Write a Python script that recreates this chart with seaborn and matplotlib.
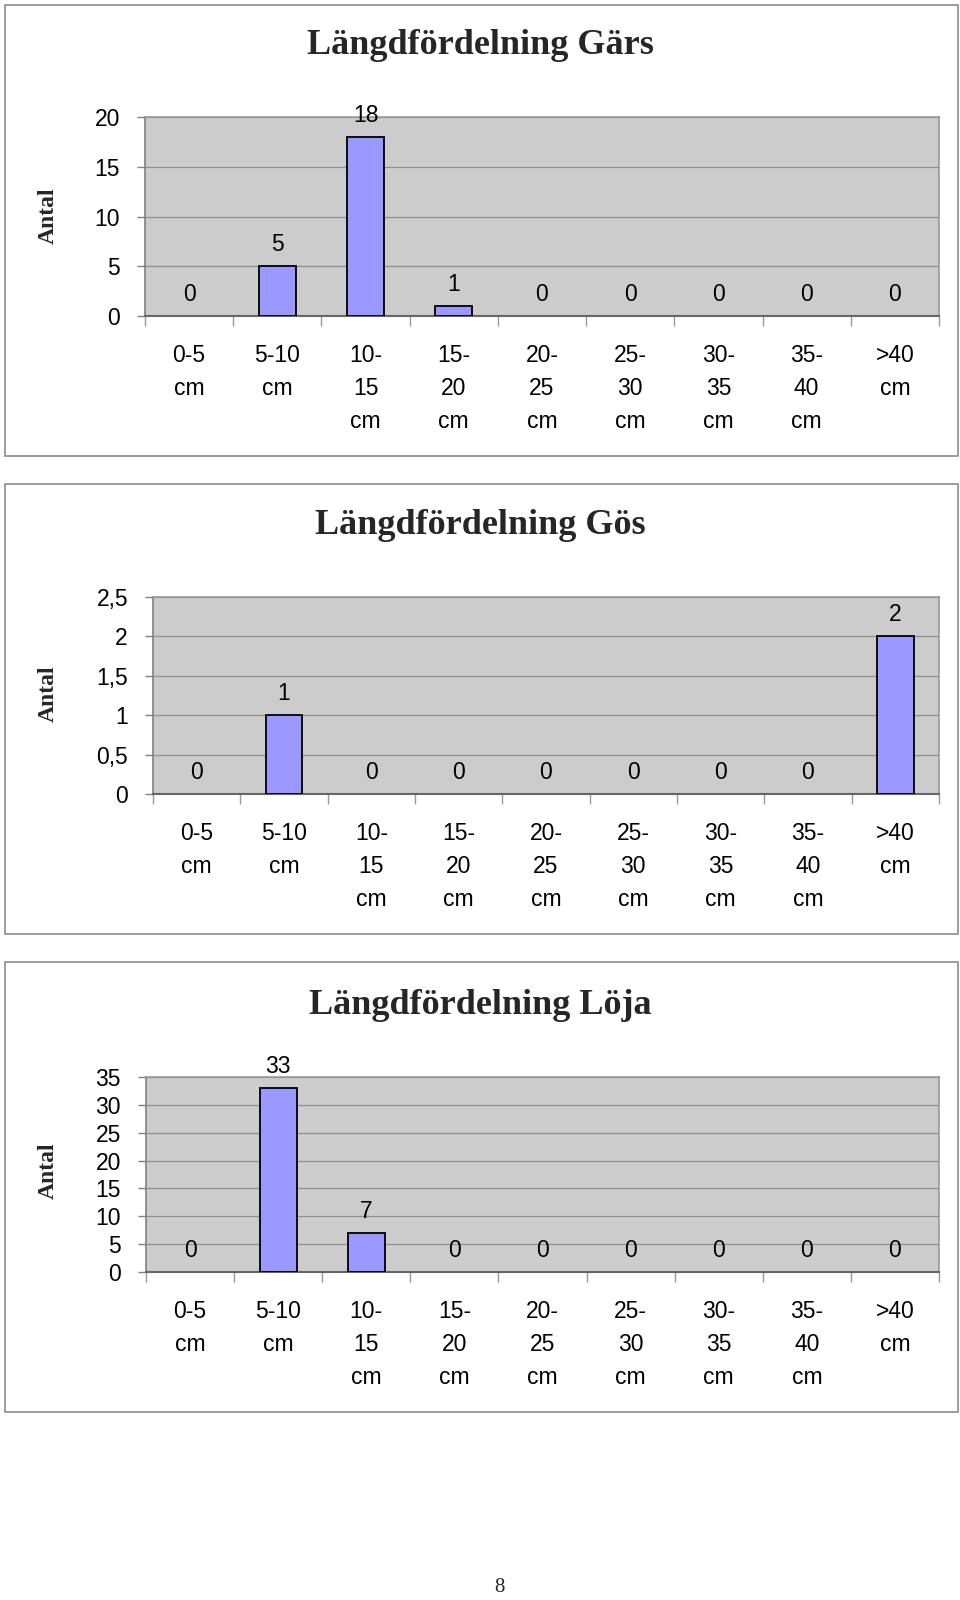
import matplotlib
matplotlib.use("Agg")
import matplotlib.pyplot as plt
import seaborn as sns
import pandas as pd
from matplotlib.patches import Rectangle
from matplotlib.ticker import MultipleLocator, FuncFormatter, FixedLocator

# ---- data ----
categories = ["0-5\ncm", "5-10\ncm", "10-\n15\ncm", "15-\n20\ncm", "20-\n25\ncm",
              "25-\n30\ncm", "30-\n35\ncm", "35-\n40\ncm", ">40\ncm"]
gars_values = [0, 5, 18, 1, 0, 0, 0, 0, 0]
gos_values = [0, 1, 0, 0, 0, 0, 0, 0, 2]
loja_values = [0, 33, 7, 0, 0, 0, 0, 0, 0]
titles = ["Längdfördelning Gärs", "Längdfördelning Gös", "Längdfördelning Löja"]
ylabel = "Antal"
y_max = [20, 2.5, 35]
y_step = [5, 0.5, 5]
page_number = "8"

sns.set_theme(style="white")
plt.rcParams["font.family"] = ["Liberation Sans", "DejaVu Sans"]

W, H = 960, 1600
fig = plt.figure(figsize=(W / 100, H / 100), dpi=100)
fig.patch.set_facecolor("white")

# layout in pixels
panels = [
    dict(box=(5, 5, 958, 456), ax=(145, 117, 939, 316), title_y=45, ylab=(48, 216)),
    dict(box=(5, 484, 958, 934), ax=(153, 597, 939, 794), title_y=526, ylab=(48, 694)),
    dict(box=(5, 962, 958, 1412), ax=(146, 1077, 939, 1272), title_y=1006, ylab=(48, 1171)),
]
series = [gars_values, gos_values, loja_values]


def fmt_comma(v, pos):
    s = ("%g" % v)
    return s.replace(".", ",")


for p, vals, title, ym, ys in zip(panels, series, titles, y_max, y_step):
    bx0, by0, bx1, by1 = p["box"]
    fig.add_artist(Rectangle((bx0 / W, 1 - by1 / H), (bx1 - bx0) / W, (by1 - by0) / H,
                             transform=fig.transFigure, fill=False,
                             edgecolor="#8c8c8c", linewidth=1.2))
    x0, y0, x1, y1 = p["ax"]
    ax = fig.add_axes([x0 / W, 1 - y1 / H, (x1 - x0) / W, (y1 - y0) / H])
    ax.set_facecolor("#cccccc")
    df = pd.DataFrame({"cat": categories, "val": vals})
    sns.barplot(data=df, x="cat", y="val", ax=ax, color="#9999ff", saturation=1,
                edgecolor="black", linewidth=1.3, width=0.42, zorder=3)
    for patch in ax.patches:
        if patch.get_height() == 0:
            patch.set_linewidth(0)
            patch.set_visible(False)
    ax.set_xlim(-0.5, len(categories) - 0.5)
    ax.set_ylim(0, ym)
    ax.yaxis.set_major_locator(MultipleLocator(ys))
    ax.yaxis.set_major_formatter(FuncFormatter(fmt_comma))
    ax.grid(axis="y", color="#8f8f8f", linewidth=0.9, zorder=1)
    ax.set_axisbelow(True)
    ax.set_xlabel("")
    ax.set_ylabel("")
    for side in ["top", "right"]:
        ax.spines[side].set_color("#999999")
        ax.spines[side].set_linewidth(1.2)
    ax.spines["left"].set_color("#808080")
    ax.spines["left"].set_linewidth(1.2)
    ax.spines["bottom"].set_color("#666666")
    ax.spines["bottom"].set_linewidth(1.5)
    ax.tick_params(axis="y", which="major", direction="out", length=6, width=1,
                   color="#808080", pad=12, labelsize=16.5, labelcolor="black", left=True)
    ax.xaxis.set_minor_locator(FixedLocator([i - 0.5 for i in range(len(categories) + 1)]))
    ax.tick_params(axis="x", which="minor", direction="out", length=7, width=1,
                   color="#999999", bottom=True)
    ax.tick_params(axis="x", which="major", length=0, pad=20, labelsize=16.5,
                   labelcolor="black")
    for lab in ax.get_xticklabels():
        lab.set_linespacing(1.55)
        lab.set_verticalalignment("top")
    for i, v in enumerate(vals):
        ax.annotate(("%g" % v).replace(".", ","), (i, v), xytext=(0, 11),
                    textcoords="offset points", ha="center", va="baseline",
                    fontsize=16.5, color="black", annotation_clip=False)
    fig.text(480 / W, 1 - p["title_y"] / H, title, ha="center", va="center",
             fontsize=26, fontweight="bold", family=["Liberation Serif", "DejaVu Serif"])
    lx, ly = p["ylab"]
    fig.text(lx / W, 1 - ly / H, ylabel, ha="center", va="center", rotation=90,
             fontsize=17, fontweight="bold", family=["Liberation Serif", "DejaVu Serif"])

fig.text(499 / W, 1 - 1587 / H, page_number, ha="center", va="center", fontsize=15,
         family=["Liberation Serif", "DejaVu Serif"])

fig.savefig("out.png", dpi=100, facecolor="white")
